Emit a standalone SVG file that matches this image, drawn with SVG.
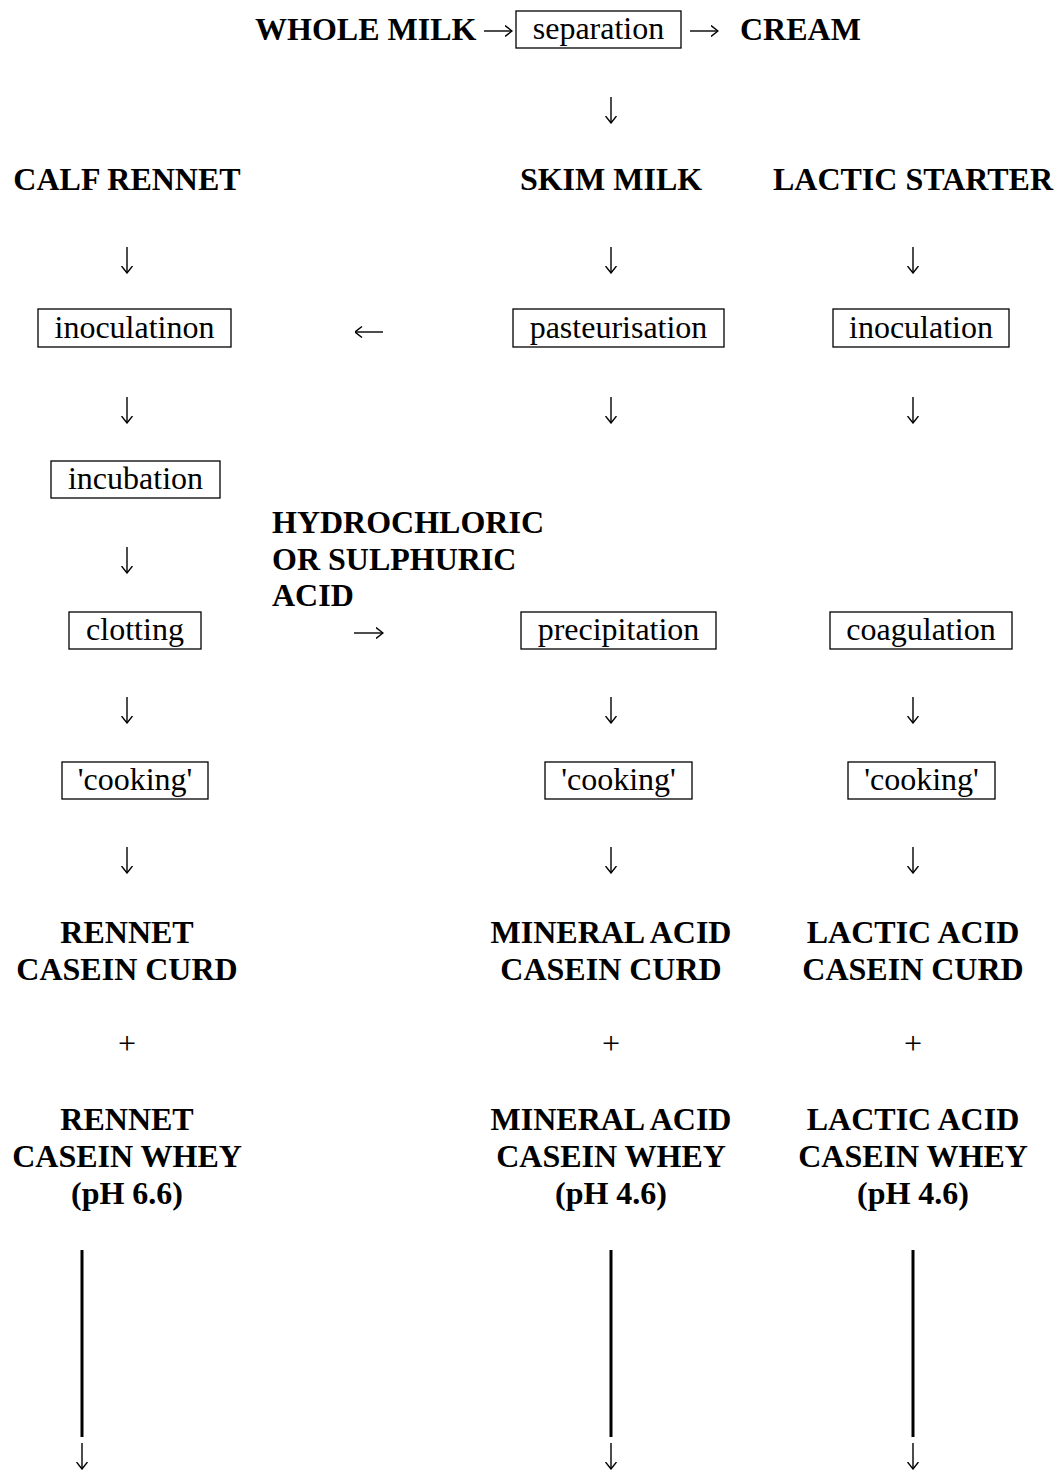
<svg xmlns="http://www.w3.org/2000/svg" width="1058" height="1470" viewBox="0 0 1058 1470">
<style>
text{font-family:"Liberation Serif","Times New Roman",serif;font-size:32px;fill:#000}
.b{font-weight:bold}
.c{text-anchor:middle}
.box{fill:none;stroke:#000;stroke-width:1.3}
.bar{stroke:#000;stroke-width:3}
.arr{fill:none;stroke:#000;stroke-width:1.4;marker-end:url(#ah)}
</style>
<defs>
<marker id="ah" viewBox="0 0 8 12" refX="7.5" refY="6" markerWidth="8" markerHeight="12" markerUnits="userSpaceOnUse" orient="auto">
<path d="M0.5,0.5 L7.5,6 L0.5,11.5" fill="none" stroke="#000" stroke-width="1.4"/>
</marker>
</defs>
<rect width="1058" height="1470" fill="#fff"/>
<g id="whole-milk"><text class="b" x="255" y="40">WHOLE MILK</text></g>
<g id="separation"><rect class="box" x="516" y="11" width="165" height="37"/><text class="c" x="598.5" y="39">separation</text></g>
<g id="cream"><text class="b" x="740" y="40">CREAM</text></g>
<g id="calf-rennet"><text class="b c" x="127" y="190">CALF RENNET</text></g>
<g id="skim-milk"><text class="b c" x="611" y="190">SKIM MILK</text></g>
<g id="lactic-starter"><text class="b c" x="913" y="190">LACTIC STARTER</text></g>
<g id="inoculatinon"><rect class="box" x="38" y="309" width="193" height="38"/><text class="c" x="134.5" y="338">inoculatinon</text></g>
<g id="pasteurisation"><rect class="box" x="513" y="309" width="211" height="38"/><text class="c" x="618.5" y="338">pasteurisation</text></g>
<g id="inoculation"><rect class="box" x="833" y="309" width="176" height="38"/><text class="c" x="921" y="338">inoculation</text></g>
<g id="incubation"><rect class="box" x="51" y="461" width="169" height="37"/><text class="c" x="135.5" y="489">incubation</text></g>
<g id="acid"><text class="b" x="272" y="533">HYDROCHLORIC</text><text class="b" x="272" y="570">OR SULPHURIC</text><text class="b" x="272" y="606">ACID</text></g>
<g id="clotting"><rect class="box" x="69" y="612" width="132" height="37"/><text class="c" x="135" y="640">clotting</text></g>
<g id="precipitation"><rect class="box" x="521" y="612" width="195" height="37"/><text class="c" x="618.5" y="640">precipitation</text></g>
<g id="coagulation"><rect class="box" x="830" y="612" width="182" height="37"/><text class="c" x="921" y="640">coagulation</text></g>
<g id="cooking-1"><rect class="box" x="62" y="762" width="146" height="37"/><text class="c" x="135" y="790">'cooking'</text></g>
<g id="cooking-2"><rect class="box" x="545" y="762" width="147" height="37"/><text class="c" x="618.5" y="790">'cooking'</text></g>
<g id="cooking-3"><rect class="box" x="848" y="762" width="147" height="37"/><text class="c" x="921.5" y="790">'cooking'</text></g>
<g id="rennet-curd"><text class="b c" x="127" y="943">RENNET</text><text class="b c" x="127" y="980">CASEIN CURD</text></g>
<g id="mineral-curd"><text class="b c" x="611" y="943">MINERAL ACID</text><text class="b c" x="611" y="980">CASEIN CURD</text></g>
<g id="lactic-curd"><text class="b c" x="913" y="943">LACTIC ACID</text><text class="b c" x="913" y="980">CASEIN CURD</text></g>
<g id="plus"><text class="c" x="127" y="1054">+</text><text class="c" x="611" y="1054">+</text><text class="c" x="913" y="1054">+</text></g>
<g id="rennet-whey"><text class="b c" x="127" y="1130">RENNET</text><text class="b c" x="127" y="1167">CASEIN WHEY</text><text class="b c" x="127" y="1204">(pH 6.6)</text></g>
<g id="mineral-whey"><text class="b c" x="611" y="1130">MINERAL ACID</text><text class="b c" x="611" y="1167">CASEIN WHEY</text><text class="b c" x="611" y="1204">(pH 4.6)</text></g>
<g id="lactic-whey"><text class="b c" x="913" y="1130">LACTIC ACID</text><text class="b c" x="913" y="1167">CASEIN WHEY</text><text class="b c" x="913" y="1204">(pH 4.6)</text></g>
<g id="connectors">
<path class="arr" d="M484,31 H512"/>
<path class="arr" d="M690,31 H718"/>
<path class="arr" d="M611,97 V123"/>
<path class="arr" d="M127,247 V273"/><path class="arr" d="M611,247 V273"/><path class="arr" d="M913,247 V273"/>
<path class="arr" d="M383,332 H355"/>
<path class="arr" d="M127,397 V423"/><path class="arr" d="M611,397 V423"/><path class="arr" d="M913,397 V423"/>
<path class="arr" d="M127,547 V573"/>
<path class="arr" d="M354,633 H383"/>
<path class="arr" d="M127,697 V723"/><path class="arr" d="M611,697 V723"/><path class="arr" d="M913,697 V723"/>
<path class="arr" d="M127,847 V873"/><path class="arr" d="M611,847 V873"/><path class="arr" d="M913,847 V873"/>
<line class="bar" x1="82" y1="1250" x2="82" y2="1437"/>
<line class="bar" x1="611" y1="1250" x2="611" y2="1437"/>
<line class="bar" x1="913" y1="1250" x2="913" y2="1437"/>
<path class="arr" d="M82,1443 V1469"/><path class="arr" d="M611,1443 V1469"/><path class="arr" d="M913,1443 V1469"/>
</g>
</svg>
